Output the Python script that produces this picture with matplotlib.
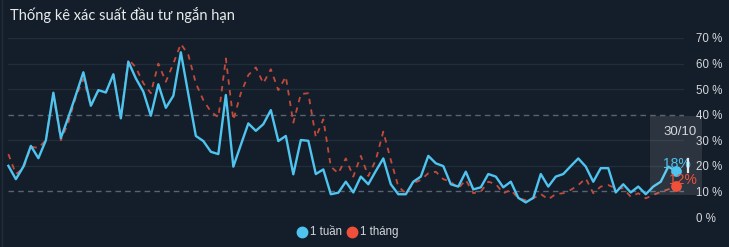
import numpy as np
import matplotlib
matplotlib.use("Agg")
import matplotlib.pyplot as plt
from matplotlib.patches import Rectangle
from matplotlib.lines import Line2D

# probability series (%), one point per day
week = [20, 14.8, 19.7, 27.8, 23, 30, 48.6, 30.9, 39, 47.7,
        56.6, 43.5, 49.6, 48.7, 55.8, 38.6, 60.7, 54.2, 49, 39.6,
        51.9, 42.7, 47.4, 64.4, 48, 31.7, 29.7, 25.5, 24.6, 47.7,
        19.7, 28.2, 36.6, 33.7, 36.3, 41.8, 29.7, 31.7, 16.7, 30.1,
        29.8, 16.8, 18.6, 8.9, 9.5, 13.8, 9.6, 15.8, 12.8, 18,
        22.9, 12.8, 8.9, 8.9, 13.8, 15.8, 23.9, 21, 19.9, 12.8,
        11.9, 17.7, 10.8, 11.6, 16.8, 15.8, 11.6, 13.8, 7.5, 5.7,
        7.5, 16.8, 11.9, 15.8, 16.8, 19.9, 22.9, 19.7, 13.8, 19.1,
        19.1, 9.6, 12.8, 9.6, 11.9, 8.9, 11.9, 13.8, 19.7, 18]
month = [24.6, 16.8, 19, 27.5, 27, 30, 48, 30, 37, 47,
         54, 43.5, 49.6, 48.7, 55.8, 38.6, 61.7, 58.5, 52.3, 48.4,
         60, 52.9, 60, 67.7, 63.4, 52.3, 45.7, 41.2, 39, 62,
         37.9, 48.4, 55.5, 58.5, 52.3, 57.8, 49.6, 54.9, 36.9, 48.1,
         48.4, 31.2, 38.2, 19.7, 17.1, 22.9, 15.8, 23.9, 16, 22.3,
         33.4, 22.3, 11.9, 9.3, 13.2, 14.5, 17.1, 17.7, 14.8, 13.8,
         11.2, 14.5, 9.3, 9.9, 13.8, 12.9, 9.3, 10.6, 7.3, 6.6,
         7.3, 9, 6.9, 9, 9.3, 10.6, 12.5, 15.1, 9.3, 11.9,
         12.5, 11.2, 11.2, 7.9, 9.3, 7.3, 8.6, 9.9, 10.8, 12]
yticks = [0, 10, 20, 30, 40, 50, 60, 70]
labels = ["1 tuần", "1 tháng"]
tip_date = "30/10"

BG = "#141e2a"
BLUE = "#4ec4ef"
RED = "#c24a3b"
RED_DOT = "#f0503a"
TXT = "#d4d7db"
SANS = ["Liberation Sans", "DejaVu Sans"]

W, H = 729, 247
fig = plt.figure(figsize=(W / 100, H / 100), dpi=100, facecolor=BG)
ax = fig.add_axes([8 / W, (H - 217) / H, (684 - 8) / W, (217 - 38) / H])
ax.set_facecolor(BG)

x = np.arange(len(week))
ax.set_xlim(-0.05, 90.1)
ax.set_ylim(0, 70)

for t in yticks:
    if t in (10, 40):
        ax.axhline(t, color="#5a6470", lw=1, ls=(0, (4, 3)), zorder=1)
    else:
        ax.axhline(t, color="#222d3a", lw=1, zorder=1)

ax.plot(x, month, color=RED, lw=1.3, ls=(0, (3, 3)), zorder=2, clip_on=False)
ax.plot(x, week, color=BLUE, lw=1.7, zorder=3, clip_on=False)

for s in ax.spines.values():
    s.set_visible(False)
ax.set_xticks([])
ax.set_yticks(yticks)
ax.set_yticklabels(["%d %%" % t for t in yticks])
ax.yaxis.tick_right()
ax.tick_params(axis="y", length=0, pad=9, labelsize=8.3, labelcolor=TXT)
for lab in ax.get_yticklabels():
    lab.set_family(SANS)

# faint frame line on the left edge
fig.add_artist(Line2D([1.5 / W, 1.5 / W], [0, 1], color="#222d3a", lw=1,
                      transform=fig.transFigure))

# hover tooltip at the last day
last = len(week) - 1
ax.add_patch(Rectangle((85.6, 8.6), 6.9, 30.9, facecolor="#ffffff", alpha=0.1,
                       edgecolor="none", zorder=4, clip_on=False))
ax.scatter([last], [week[-1]], s=45, color=BLUE, zorder=6, clip_on=False)
ax.scatter([last], [month[-1]], s=45, color=RED_DOT, zorder=6, clip_on=False)
ax.text(89.6, 33.4, tip_date, color=TXT, fontsize=9.5, ha="center",
        va="center", family=SANS, zorder=7)
ax.text(89.1, 20.9, "%d%%" % round(week[-1]), color=BLUE, fontsize=10,
        ha="center", va="center", family=SANS, zorder=7)
ax.text(90.0, 14.3, "%d%%" % round(month[-1]), color=RED_DOT, fontsize=10,
        ha="center", va="center", family=SANS, zorder=7)
ax.plot([90.7, 90.7], [17.5, 22.5], color="#e8e8e8", lw=1.6, zorder=7,
        clip_on=False)

fig.text(10 / W, 1 - 15 / H, "Thống kê xác suất đầu tư ngắn hạn", color="#e8eaec",
         fontsize=10.5, va="center", ha="left", family=["Lato", "DejaVu Sans"])

# legend
for xp, col, lab in [(302, BLUE, labels[0]), (352, RED_DOT, labels[1])]:
    fig.add_artist(Line2D([xp / W], [1 - 231.5 / H], marker="o",
                          markersize=7.5, color=col, lw=0,
                          transform=fig.transFigure))
    fig.text((xp + 8) / W, 1 - 231.5 / H, lab, color=TXT, fontsize=8.3,
             va="center", ha="left", family=SANS)

fig.savefig("out.png", dpi=100, facecolor=BG)
